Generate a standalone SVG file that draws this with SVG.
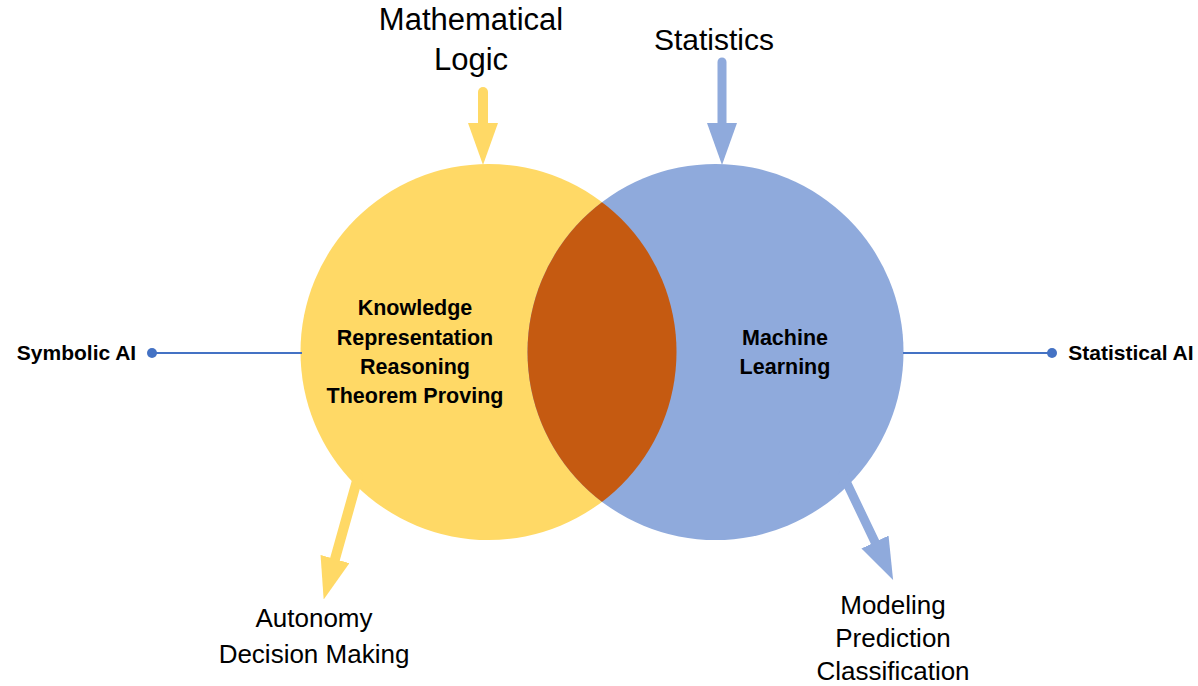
<svg xmlns="http://www.w3.org/2000/svg" width="1198" height="686" viewBox="0 0 1198 686">
  <style>
    .lbl { font-family: "Liberation Sans", Arial, sans-serif; fill: #000; text-anchor: middle; }
    .big { font-size: 30px; }
    .mid { font-size: 26px; }
    .bold { font-size: 21.5px; font-weight: bold; }
    .side { font-size: 21px; font-weight: bold; }
    .conn { stroke: #4472C4; stroke-width: 2; fill: none; }
    .ya { stroke: #FFD966; stroke-width: 10; fill: none; stroke-linecap: round; }
    .ba { stroke: #8FAADC; stroke-width: 9; fill: none; stroke-linecap: round; }
  </style>
  <defs>
    <marker id="hy" markerUnits="userSpaceOnUse" markerWidth="42" markerHeight="30" refX="0" refY="15" orient="auto">
      <path d="M0,0 L42,15 L0,30 z" fill="#FFD966"/>
    </marker>
    <marker id="hb" markerUnits="userSpaceOnUse" markerWidth="42" markerHeight="30" refX="0" refY="15" orient="auto">
      <path d="M0,0 L42,15 L0,30 z" fill="#8FAADC"/>
    </marker>
    <clipPath id="rightClip">
      <circle cx="715.5" cy="352" r="188"/>
    </clipPath>
  </defs>

  <g id="symbolic-circle">
    <circle cx="488.5" cy="352" r="188" fill="#FFD966"/>
  </g>
  <g id="statistical-circle">
    <circle cx="715.5" cy="352" r="188" fill="#8FAADC"/>
  </g>
  <g id="intersection">
    <circle cx="488.5" cy="352" r="188" fill="#C55A11" clip-path="url(#rightClip)"/>
  </g>

  <g id="connectors">
    <line class="conn" x1="152" y1="353" x2="302" y2="353"/>
    <circle cx="152" cy="353" r="5" fill="#4472C4"/>
    <line class="conn" x1="903" y1="353" x2="1052" y2="353"/>
    <circle cx="1052" cy="353" r="5" fill="#4472C4"/>
    <line class="ya" x1="483" y1="92" x2="483" y2="123" marker-end="url(#hy)"/>
    <line class="ba" x1="722" y1="62" x2="722" y2="123" marker-end="url(#hb)"/>
    <line class="ya" x1="358" y1="477" x2="335" y2="559" stroke-linecap="butt" marker-end="url(#hy)"/>
    <line class="ba" x1="843" y1="475" x2="875" y2="542" stroke-linecap="butt" marker-end="url(#hb)"/>
  </g>

  <g id="mathematical-logic">
    <text class="lbl big" x="471" y="30" style="font-size:31px">Mathematical</text>
    <text class="lbl big" x="471" y="70" style="font-size:31px">Logic</text>
  </g>
  <g id="statistics">
    <text class="lbl big" x="714" y="50">Statistics</text>
  </g>
  <g id="symbolic-ai">
    <text class="lbl side" x="76.5" y="360">Symbolic AI</text>
  </g>
  <g id="statistical-ai">
    <text class="lbl side" x="1131" y="360">Statistical AI</text>
  </g>
  <g id="symbolic-content">
    <text class="lbl bold" x="415" y="315">Knowledge</text>
    <text class="lbl bold" x="415" y="345">Representation</text>
    <text class="lbl bold" x="415" y="374">Reasoning</text>
    <text class="lbl bold" x="415" y="403">Theorem Proving</text>
  </g>
  <g id="machine-learning">
    <text class="lbl bold" x="785" y="345">Machine</text>
    <text class="lbl bold" x="785" y="374">Learning</text>
  </g>
  <g id="autonomy">
    <text class="lbl mid" x="314" y="627">Autonomy</text>
    <text class="lbl mid" x="314" y="663">Decision Making</text>
  </g>
  <g id="modeling">
    <text class="lbl mid" x="893" y="614">Modeling</text>
    <text class="lbl mid" x="893" y="647">Prediction</text>
    <text class="lbl mid" x="893" y="680">Classification</text>
  </g>
</svg>
